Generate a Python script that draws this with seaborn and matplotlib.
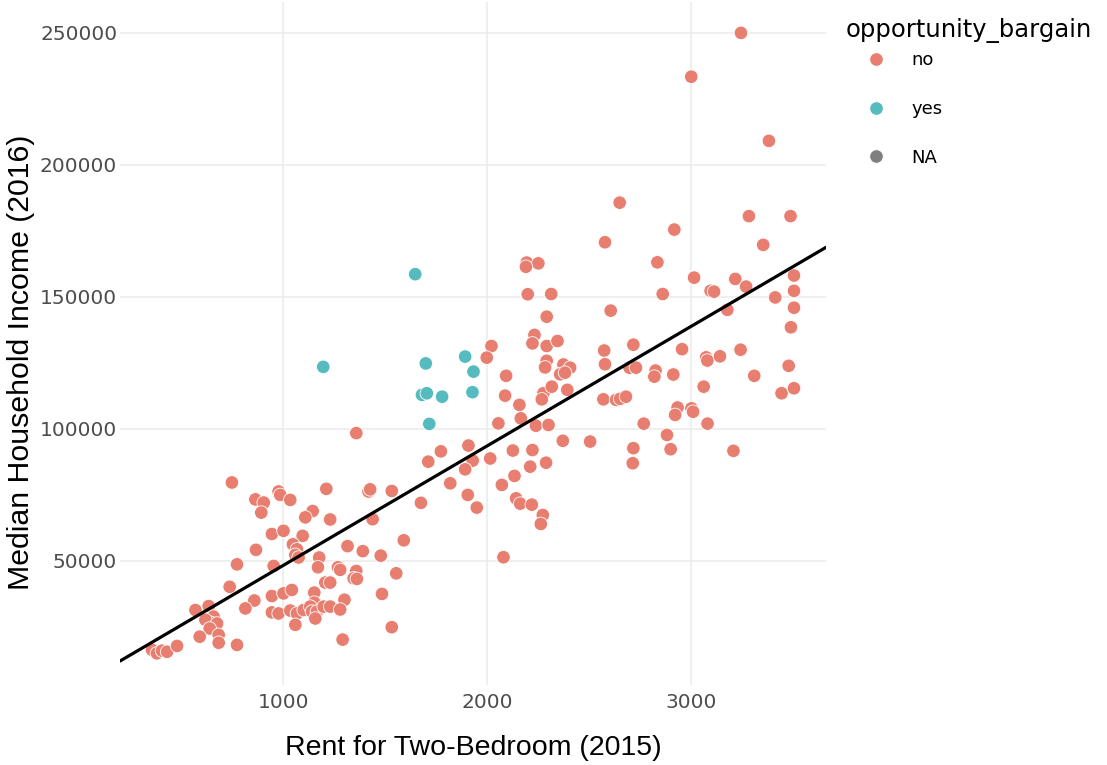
import matplotlib
matplotlib.use('Agg')
import matplotlib.pyplot as plt
import matplotlib.ticker as mticker
import pandas as pd
import seaborn as sns

# rent (2015) / income (2016) values
rent_no = [3245, 3001, 3382, 2650, 2918, 2578, 3284, 3488, 3354,
           2835, 3015, 3217, 3270, 2861, 3096, 3113, 3505, 3505, 3505, 3413, 3178, 2606, 3490,
           2574, 2717, 2956, 3243, 3074, 3080, 3142, 2578, 2698, 2730, 2826, 2820, 2913, 3479,
           3310, 3062, 3444, 3505, 2570, 2632, 2652, 2681, 2934, 2922, 3002, 3010, 2768, 3081,
           2505, 2882, 2717, 2900, 3208, 2714,
           2194, 2251, 2190, 2199, 2314, 2292, 2232, 2222, 2292, 2345, 2021, 1998, 2292, 2284,
           2374, 2407, 2358, 2382, 2093, 2088, 2276, 2268, 2317, 2393, 2158, 2165, 2055, 2239,
           2301, 1358, 2371, 1908, 1773, 2126, 2222, 1711, 1929, 2015, 2211, 2289, 1892,
           1819, 2072, 2134, 1905, 1949, 2142, 2162, 2219, 2273, 2263, 1675, 1532, 1418, 1426,
           1438, 1591, 1390, 1478, 2080, 1358, 1345, 1361, 1554, 1484, 1532,
           748, 977, 985, 1034, 863, 904, 892, 1211, 1144, 1108, 1230, 944, 1001, 1095, 1047,
           1067, 1059, 1075, 866, 1315, 1176, 1170, 1268, 1279, 773, 953, 1206, 1230, 737, 944,
           1001, 1042, 1152, 1152, 1300, 858, 814, 944, 977, 1034, 1067, 1100, 1132, 1141, 1165,
           1198, 1230, 1279, 1157, 1059, 1291, 569, 634, 658, 642, 618, 675, 639, 590, 683, 683,
           773, 356, 380, 405, 430, 479]
income_no = [250000, 233400, 209100, 185700, 175500, 170700, 180600, 180600, 169700,
             163100, 157300, 156800, 153900, 151100, 152300, 152000, 158100, 152300, 145900, 149800, 145100, 144800, 138500,
             129700, 131900, 130200, 130000, 127100, 125900, 127500, 124500, 123200, 123200, 122100, 119800, 120600, 123900,
             120100, 116000, 113500, 115400, 111200, 111000, 111400, 112200, 108100, 105300, 107800, 106500, 102000, 102000,
             95200, 97700, 92700, 92300, 91700, 87000,
             163000, 162700, 161400, 151000, 151100, 142500, 135600, 132400, 131400, 133300, 131400, 127000, 125800, 123300,
             124400, 123200, 120700, 121300, 120100, 112600, 113500, 111200, 116000, 114800, 109100, 104000, 102100, 101200,
             101500, 98400, 95500, 93700, 91500, 91800, 92000, 87600, 88000, 88800, 85700, 87200, 84700,
             79400, 78800, 82200, 75000, 70200, 73700, 71700, 71300, 67400, 64000, 72000, 76500, 76300, 77100,
             65800, 57800, 53700, 52000, 51400, 46200, 43400, 43200, 45300, 37500, 24900,
             79700, 76300, 75000, 73100, 73300, 72100, 68300, 77300, 68900, 66500, 65700, 60200, 61400, 59500, 56300,
             54400, 52300, 51300, 54200, 55600, 51300, 47600, 47600, 46600, 48700, 48100, 41800, 41800, 40200, 36700,
             37700, 39000, 38000, 34200, 35300, 35000, 32000, 30500, 30100, 31200, 30100, 31400, 32700, 30800, 30800,
             32700, 32700, 31600, 28200, 25800, 20200, 31400, 32900, 28900, 26600, 27700, 26300, 24400, 21300, 22000, 19000,
             18200, 16300, 15000, 16000, 15600, 17800]
rent_yes = [1196, 1647, 1699, 1892, 1933, 1680, 1704, 1779, 1928, 1716]
income_yes = [123500, 158600, 124800, 127400, 121700, 112900, 113500, 112200, 113900, 101900]

bargain_levels = ['no', 'yes', 'NA']
bargain_colors = ['#e87e6f', '#55bbbf', '#7f7f7f']
x_ticks = [1000, 2000, 3000]
y_ticks = [50000, 100000, 150000, 200000, 250000]

df = pd.DataFrame({
    'rent': rent_no + rent_yes,
    'income': income_no + income_yes,
    'opportunity_bargain': ['no'] * len(rent_no) + ['yes'] * len(rent_yes),
})

sns.set_style('white')
plt.rcParams['font.family'] = ['DejaVu Sans']
plt.rcParams['text.color'] = 'black'
plt.rcParams['axes.labelcolor'] = 'black'

fig = plt.figure(figsize=(11.07, 7.65), dpi=100)
ax = fig.add_axes([120 / 1107, 1 - 685 / 765, 706 / 1107, 683 / 765])

sns.scatterplot(data=df, x='rent', y='income', hue='opportunity_bargain',
                hue_order=bargain_levels, palette=dict(zip(bargain_levels, bargain_colors)),
                s=95, edgecolor='white', linewidth=0.6, ax=ax, zorder=3)
ax.set_xlim(199, 3662)
ax.set_ylim(3000, 261700)
# 전체 데이터 회귀선 (축 끝까지)
sns.regplot(data=df, x='rent', y='income', scatter=False, ci=None, truncate=False,
            color='black', line_kws={'linewidth': 2.3, 'zorder': 4}, ax=ax)
ax.set_xlim(199, 3662)
ax.set_ylim(3000, 261700)

ax.set_xticks(x_ticks)
ax.set_yticks(y_ticks)
ax.yaxis.set_major_formatter(mticker.FormatStrFormatter('%d'))
ax.xaxis.set_major_formatter(mticker.FormatStrFormatter('%d'))
ax.tick_params(length=0, labelsize=14.5, labelcolor='#4d4d4d')
ax.tick_params(axis='y', pad=2)
ax.tick_params(axis='x', pad=6)
ax.grid(True, color='#ebebeb', linewidth=1.1)
ax.set_axisbelow(True)
for sp in ax.spines.values():
    sp.set_visible(False)

ax.set_xlabel('Rent for Two-Bedroom (2015)', fontsize=20.5, family='Liberation Sans', labelpad=16)
ax.set_ylabel('Median Household Income (2016)', fontsize=21.8, family='Liberation Sans')
ax.yaxis.set_label_coords(-0.121, 0.473)

handles, labels = ax.get_legend_handles_labels()
leg = ax.legend(handles, labels, title='opportunity_bargain', loc='upper left',
                bbox_to_anchor=(837 / 1107, 1 - 9 / 765), bbox_transform=fig.transFigure,
                frameon=False, fontsize=13, title_fontsize=17.5, alignment='left',
                handlelength=3.3, handletextpad=0.3, labelspacing=1.7, borderpad=0)
leg._legend_box.sep = 6

fig.savefig('out.png', dpi=100)
